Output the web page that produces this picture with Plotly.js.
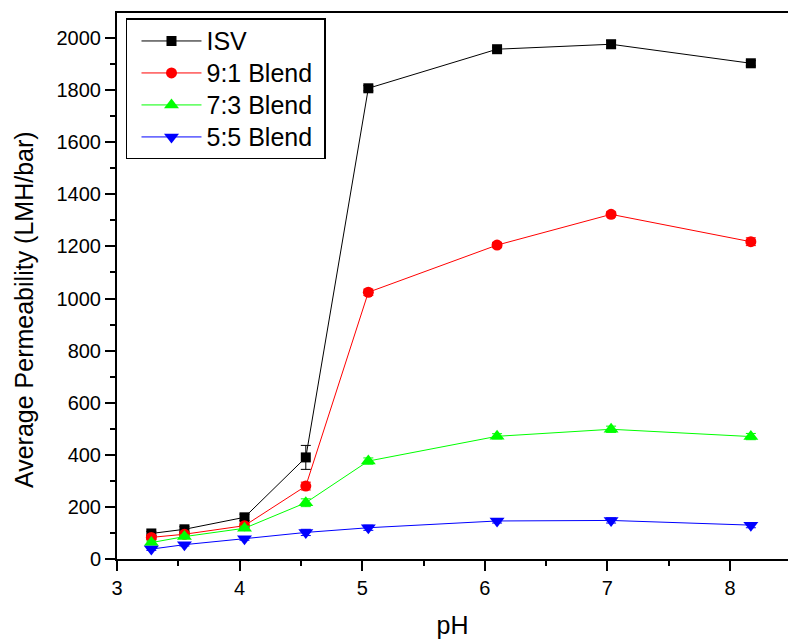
<!DOCTYPE html>
<html>
<head>
<meta charset="utf-8">
<script src="https://cdn.plot.ly/plotly-3.0.1.min.js"></script>
<style>html,body{margin:0;padding:0;background:#fff;}#chart{width:788px;height:640px;}</style>
</head>
<body>
<div id="chart"></div>
<script>
const pH = [3.28, 3.55, 4.04, 4.54, 5.05, 6.10, 7.03, 8.17];

const seriesNames = ["ISV", "9:1 Blend", "7:3 Blend", "5:5 Blend"];
const isv     = [98, 114, 160, 390, 1807, 1957, 1976, 1903];
const blend91 = [83, 95, 128, 280, 1024, 1205, 1323, 1218];
const blend73 = [63, 86, 118, 216, 376, 471, 498, 470];
const blend55 = [38, 55, 78, 102, 120, 146, 148, 130];

const isvErr = [8, 10, 12, 46, 10, 8, 15, 10];
const b91Err = [8, 8, 10, 15, 12, 10, 10, 15];
const b73Err = [6, 6, 8, 15, 12, 10, 12, 12];
const b55Err = [5, 5, 6, 12, 10, 8, 10, 10];

const xTitle = "pH";
const yTitle = "Average Permeability (LMH/bar)";

const colors = ["#000000", "#ff0000", "#00ff00", "#0000ff"];
const symbols = ["square", "circle", "triangle-up", "triangle-down"];
const sizes = [10, 11, 13, 13];
const values = [isv, blend91, blend73, blend55];
const errs = [isvErr, b91Err, b73Err, b55Err];

const traces = values.map((v, i) => ({
  x: pH,
  y: v,
  name: '<span style="font-size:25px">' + seriesNames[i] + '\u00A0</span>',
  type: "scatter",
  mode: "lines+markers",
  line: {color: colors[i], width: 1},
  marker: {color: colors[i], symbol: symbols[i], size: sizes[i]},
  error_y: {type: "data", array: errs[i], visible: true, color: colors[i], thickness: 1, width: 5}
}));

const fontFam = "Liberation Sans, Arial, sans-serif";

const layout = {
  width: 788,
  height: 640,
  margin: {l: 117, r: 0, t: 13, b: 81},
  paper_bgcolor: "#fff",
  plot_bgcolor: "#fff",
  font: {family: fontFam, color: "#000", size: 20},
  showlegend: true,
  legend: {
    x: 0.0134, y: 0.99, xanchor: "left", yanchor: "top",
    bgcolor: "#fff", bordercolor: "#000", borderwidth: 1.5,
    font: {family: fontFam, size: 22.3, color: "#000"},
    itemwidth: 60,
    indentation: 9,
    tracegroupgap: 0
  },
  xaxis: {
    range: [3, 8.473],
    dtick: 1, tick0: 3,
    ticks: "outside", ticklen: 10, tickwidth: 2, tickcolor: "#000",
    minor: {dtick: 0.5, ticks: "outside", ticklen: 5, tickwidth: 2, tickcolor: "#000", showgrid: false},
    showline: true, linewidth: 2, linecolor: "#000", mirror: true,
    showgrid: false, zeroline: false,
    tickfont: {size: 20},
    title: {text: xTitle, font: {size: 25}, standoff: 18}
  },
  yaxis: {
    range: [0, 2096],
    dtick: 200, tick0: 0,
    ticks: "outside", ticklen: 10, tickwidth: 2, tickcolor: "#000",
    minor: {dtick: 100, ticks: "outside", ticklen: 5, tickwidth: 2, tickcolor: "#000", showgrid: false},
    showline: true, linewidth: 2, linecolor: "#000",
    showgrid: false, zeroline: false,
    tickfont: {size: 20}
  },
  annotations: [{
    text: yTitle,
    xref: "paper", yref: "paper",
    x: 0, y: 0.456,
    xanchor: "center", yanchor: "middle",
    xshift: -93,
    textangle: -90,
    showarrow: false,
    font: {family: fontFam, size: 25, color: "#000"}
  }]
};

Plotly.newPlot("chart", traces, layout, {displayModeBar: false, staticPlot: true});
</script>
</body>
</html>
